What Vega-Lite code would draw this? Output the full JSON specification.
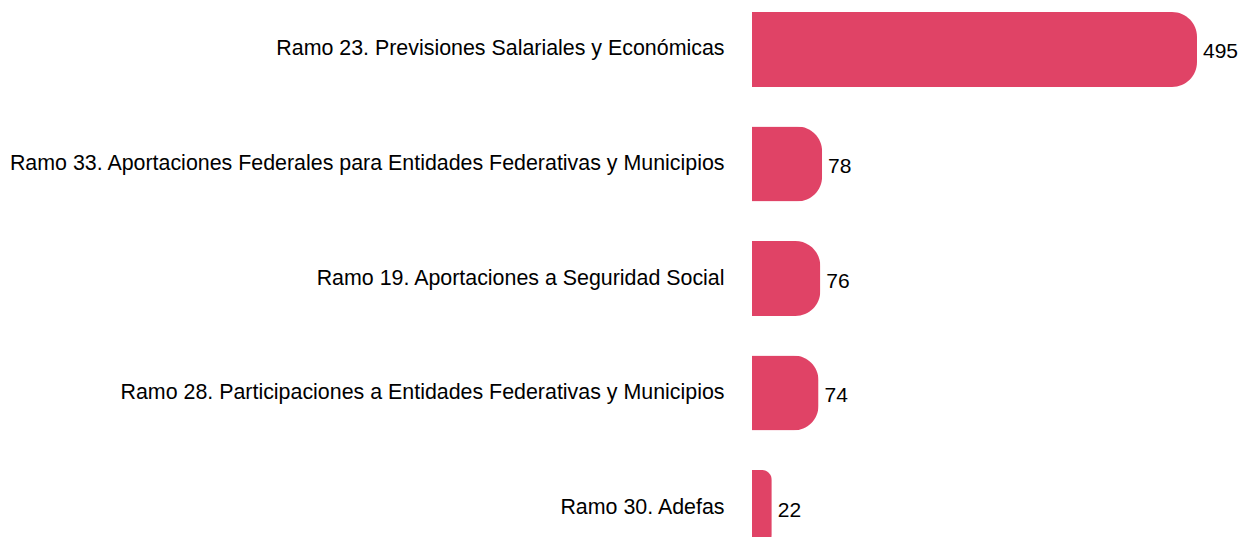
{
  "$schema": "https://vega.github.io/schema/vega-lite/v6.json",
  "autosize": "none",
  "padding": {"left": 752, "top": 12, "right": 51, "bottom": 0},
  "width": 445,
  "height": 533,
  "background": "white",
  "data": {"values": [
    {"ramo": "Ramo 23. Previsiones Salariales y Económicas", "valor": 495},
    {"ramo": "Ramo 33. Aportaciones Federales para Entidades Federativas y Municipios", "valor": 78},
    {"ramo": "Ramo 19. Aportaciones a Seguridad Social", "valor": 76},
    {"ramo": "Ramo 28. Participaciones a Entidades Federativas y Municipios", "valor": 74},
    {"ramo": "Ramo 30. Adefas", "valor": 22}
  ]},
  "encoding": {
    "y": {"field": "ramo", "type": "nominal", "sort": null,
      "scale": {"paddingInner": 0.345, "paddingOuter": 0},
      "axis": {"title": null, "ticks": false, "domain": false, "labelPadding": 28,
        "labelFont": "Liberation Sans", "labelFontSize": 21.4, "labelColor": "#000000", "labelLimit": 0}},
    "x": {"field": "valor", "type": "quantitative", "scale": {"domain": [0, 495], "nice": false}, "axis": null}
  },
  "layer": [
    {"mark": {"type": "bar", "color": "#E04366", "cornerRadiusEnd": 25}},
    {"mark": {"type": "text", "align": "left", "baseline": "middle", "dx": 6, "dy": 3, "font": "Liberation Sans", "fontSize": 21, "color": "#000000"},
     "encoding": {"text": {"field": "valor", "type": "quantitative"}}}
  ],
  "config": {"view": {"stroke": null}}
}
